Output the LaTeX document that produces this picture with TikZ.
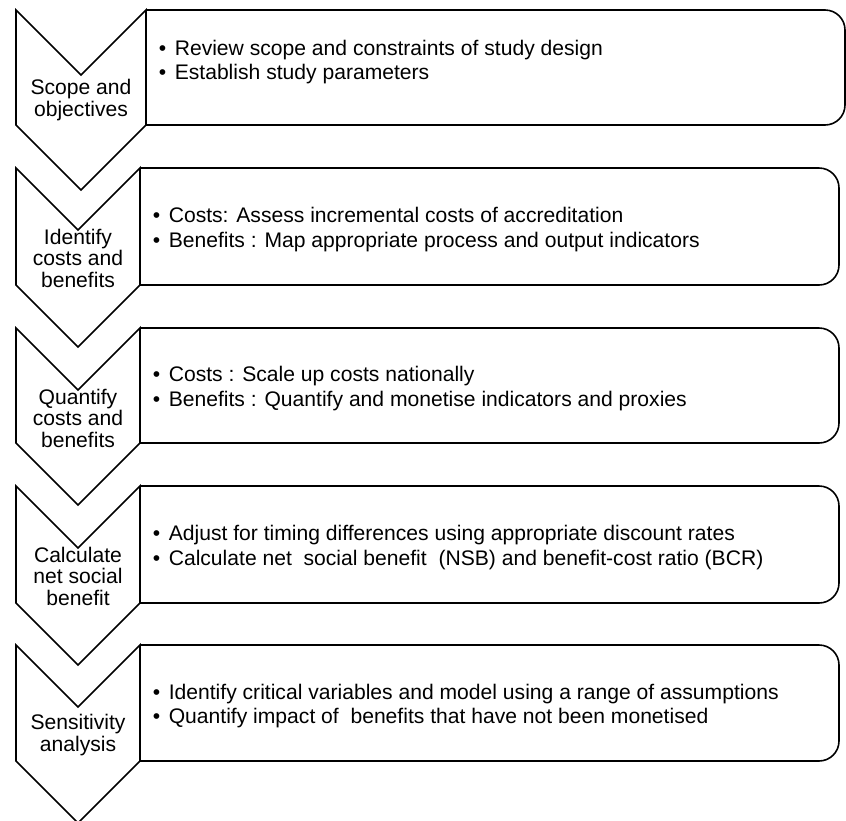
\documentclass[tikz,border=0pt]{standalone}
\usepackage{fontspec}
\setmainfont{Liberation Sans}
\newcommand\stagebox[8]{%
  \pgfmathsetmacro\cx{(16+#2)/2}%
  \pgfmathsetmacro\hw{(#2-16)/2}%
  \draw (16,#3) -- (\cx,{#3+\hw}) -- (#2,#3) -- (#2,#4) -- (\cx,{#4+\hw}) -- (16,#4) -- cycle;
  \draw[rounded corners=20pt] (#2,#3) -- (#5,#3) -- (#5,#4) -- (#2,#4);
  \node[lbl] (#1-label) at (\cx,{#3+90}) {#6};
  \node[txt] (#1-text) at ({#2+12},#7) {#8};
}
\newcommand\bul{\makebox[16pt][l]{\textbullet}}
\begin{document}
\begin{tikzpicture}[x=1pt,y=-1pt,line width=1.6pt,
  lbl/.style={font=\fontsize{21.1}{21.5}\selectfont,align=center,inner sep=0pt},
  txt/.style={font=\fontsize{21.1}{24.5}\selectfont,align=left,anchor=west,inner sep=0pt}]
\useasboundingbox (0,0) rectangle (846,820);
\fill[white] (0,0) rectangle (846,820);
\stagebox{s1}{146}{10}{125}{845}{Scope and\\objectives}{62}
  {\bul Review scope and constraints of study design\\\bul Establish study parameters}
\stagebox{s2}{140}{168}{285}{839}{Identify\\costs and\\benefits}{229.5}
  {\bul Costs: Assess incremental costs of accreditation\\\bul Benefits : Map appropriate process and output indicators}
\stagebox{s3}{140}{328}{443}{839}{Quantify\\costs and\\benefits}{388.5}
  {\bul Costs : Scale up costs nationally\\\bul Benefits : Quantify and monetise indicators and proxies}
\stagebox{s4}{140}{486}{603}{839}{Calculate\\net social\\benefit}{547.5}
  {\bul Adjust for timing differences using appropriate discount rates\\\bul Calculate net\ \ social benefit\ \ (NSB) and benefit-cost ratio (BCR)}
\stagebox{s5}{140}{645}{761}{839}{Sensitivity\\analysis}{706}
  {\bul Identify critical variables and model using a range of assumptions\\\bul Quantify impact of\ \ benefits that have not been monetised}
\end{tikzpicture}
\end{document}
